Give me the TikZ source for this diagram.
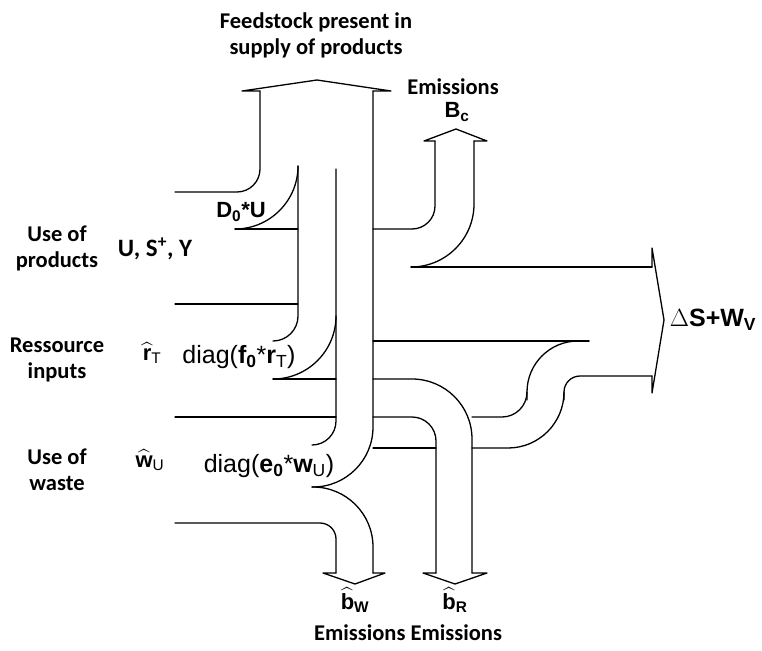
\documentclass[tikz,border=0pt]{standalone}
\usepackage{amsmath}
\usepackage{fontspec}
\setmainfont{Carlito}
\newfontfamily\arialfont{Liberation Sans}
\newcommand{\chapeau}[1]{\ensuremath{\widehat{\mbox{#1}}}}
\tikzstyle{flow}=[line width=1.3pt,line join=round,line cap=round]
\tikzstyle{titre}=[font=\fontsize{22.5}{26}\selectfont\bfseries,align=center,inner sep=0pt]
\tikzstyle{formula}=[font=\fontsize{22}{26}\selectfont\arialfont\bfseries,inner sep=0pt]
\tikzstyle{diagtxt}=[font=\fontsize{25}{29}\selectfont\arialfont,inner sep=0pt]

\begin{document}
\begin{tikzpicture}[x=1pt,y=-1pt]
  \useasboundingbox (0,0) rectangle (762,650);
  % use of products, going up to the feedstock arrow
  \draw[flow,rounded corners=23pt] (175,192) -| (260,91);
  \draw[flow] (260,91) -- (242,91) -- (317,80) -- (391,91) -- (373,91);
  \draw[flow,rounded corners=60pt] (373,91) |- (312,487);
  \draw[flow,rounded corners=60pt] (312,487) -| (373,573);
  \draw[flow,rounded corners=63pt] (235,229) -| (298,166);
  \draw[flow] (235,229) -- (298,229);
  \draw[flow,rounded corners=25pt] (298,166) |- (273,341);
  \draw[flow] (175,304) -- (298,304);
  % ressource inputs
  \draw[flow,rounded corners=24pt] (336,169) |- (312,445);
  \draw[flow,rounded corners=63pt] (336,316) |- (273,379);
  \draw[flow] (273,379) -- (336,379);
  \draw[flow] (175,417) -- (336,417);
  % use of waste, emissions b_W
  \draw[flow,rounded corners=16pt] (175,523) -| (336,573);
  \draw[flow] (373,573) -- (385,573) -- (355,584) -- (323,573) -- (336,573);
  % emissions B_c
  \draw[flow,rounded corners=23pt] (373,229) -| (435,141);
  \draw[flow] (435,141) -- (424,141) -- (456,129) -- (487,141) -- (474,141);
  \draw[flow,rounded corners=63pt] (474,141) |- (411,267);
  \draw[flow] (411,267) -- (652,267);
  % stock and waste
  \draw[flow] (652,267) -- (652,248) -- (664,320) -- (652,393) -- (652,376);
  \draw[flow] (373,341) -- (589,341);
  \draw[flow,rounded corners=51pt] (589,341) -| (527,400);
  \draw[flow,rounded corners=25pt] (527,392) |- (472,417);
  \draw[flow,rounded corners=16pt] (652,376) -| (564,400);
  \draw[flow,rounded corners=56pt] (564,392) |- (472,448);
  % emissions b_R
  \draw[flow,rounded corners=60pt] (373,379) -| (472,573);
  \draw[flow,rounded corners=24pt] (373,417) -| (436,573);
  \draw[flow] (373,448) -- (436,448);
  \draw[flow] (436,573) -- (423,573) -- (455,584) -- (487,573) -- (472,573);

  \node[titre] (feed) at (316,35) {Feedstock present in\\supply of products};
  \node[titre] (emitop) at (453,87) {Emissions};
  \node[formula] (bc) at (457,112) {B\textsubscript{c}};
  \node[formula] (dzero) at (241,212) {D\textsubscript{0}*U};
  \node[titre] (useprod) at (57,248) {Use of\\products};
  \node[titre,font=\fontsize{25}{29}\selectfont\bfseries] (usy) at (155,249) {U, S\textsuperscript{+}, Y};
  \node[titre] (resin) at (57,360) {Ressource\\inputs};
  \node[formula] (rhat) at (152,353) {\chapeau{r}\textsubscript{\mdseries T}};
  \node[diagtxt] (diagf) at (239,357) {diag(\textbf{f\textsubscript{0}}*\textbf{r}\textsubscript{T})};
  \node[titre] (usewaste) at (57,470) {Use of\\waste};
  \node[formula] (what) at (150,460) {\chapeau{w}\textsubscript{\mdseries U}};
  \node[diagtxt] (diage) at (269,466) {diag(\textbf{e\textsubscript{0}}*\textbf{w}\textsubscript{U})};
  \node[formula,font=\fontsize{25}{29}\selectfont\arialfont\bfseries] (stock) at (713,320) {$\Delta$S+W\textsubscript{V}};
  \node[formula] (bw) at (355,600) {\chapeau{b}\textsubscript{W}};
  \node[formula] (br) at (455,600) {\chapeau{b}\textsubscript{R}};
  \node[titre] (emibot) at (408,633) {Emissions Emissions};
\end{tikzpicture}
\end{document}
